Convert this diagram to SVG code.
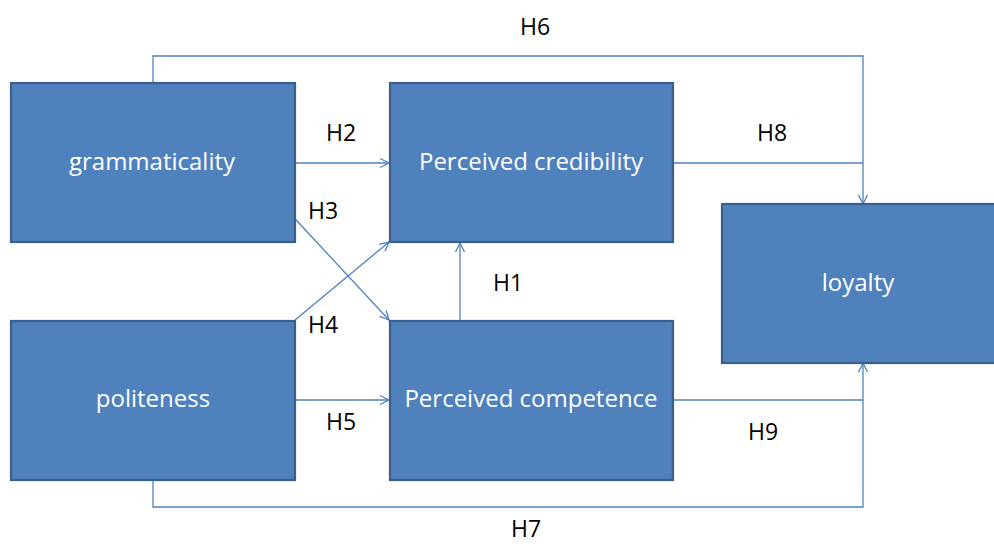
<svg xmlns="http://www.w3.org/2000/svg" width="994" height="546" viewBox="0 0 994 546">
<style>
.box{fill:#4F81BD;stroke:#3A5F8B;stroke-width:2.2}
.bt{font-family:"Open Sans","Liberation Sans",sans-serif;font-size:24px;fill:#FFFFFF;text-anchor:middle}
.lb{font-family:"Open Sans","Liberation Sans",sans-serif;font-size:23px;fill:#000000}
.c{fill:none;stroke:#4F81BD;stroke-width:1.3}
</style>
<defs>
<marker id="ah" viewBox="0 0 12 12" refX="11" refY="6" markerWidth="12" markerHeight="12" markerUnits="userSpaceOnUse" orient="auto">
<polyline points="2,1.5 11,6 2,10.5" fill="none" stroke="#4F81BD" stroke-width="1.3"/>
</marker>
</defs>
<g id="connectors">
<polyline class="c" points="153,83 153,56 863,56 863,204" marker-end="url(#ah)"/>
<polyline class="c" points="673,163 863,163"/>
<line class="c" x1="295" y1="163" x2="389" y2="163" marker-end="url(#ah)"/>
<line class="c" x1="285" y1="208" x2="389" y2="320" marker-end="url(#ah)"/>
<line class="c" x1="295" y1="320" x2="389" y2="242" marker-end="url(#ah)"/>
<line class="c" x1="460" y1="320" x2="460" y2="243" marker-end="url(#ah)"/>
<line class="c" x1="295" y1="400" x2="389" y2="400" marker-end="url(#ah)"/>
<polyline class="c" points="673,400 863,400"/>
<polyline class="c" points="153,480 153,507 863,507 863,363" marker-end="url(#ah)"/>
</g>
<g id="grammaticality">
<rect class="box" x="11" y="83" width="284" height="159"/>
<text class="bt" x="152" y="170">grammaticality</text>
</g>
<g id="credibility">
<rect class="box" x="390" y="83" width="283" height="159"/>
<text class="bt" x="531" y="170">Perceived credibility</text>
</g>
<g id="politeness">
<rect class="box" x="11" y="321" width="284" height="159"/>
<text class="bt" x="153" y="407">politeness</text>
</g>
<g id="competence">
<rect class="box" x="390" y="321" width="283" height="159"/>
<text class="bt" x="531" y="407">Perceived competence</text>
</g>
<g id="loyalty">
<rect class="box" x="722" y="204" width="280" height="159"/>
<text class="bt" x="858" y="291">loyalty</text>
</g>
<g id="labels">
<text class="lb" x="520" y="35">H6</text>
<text class="lb" x="326" y="141">H2</text>
<text class="lb" x="757" y="141">H8</text>
<text class="lb" x="308" y="219">H3</text>
<text class="lb" x="493" y="291">H1</text>
<text class="lb" x="308" y="333">H4</text>
<text class="lb" x="326" y="430">H5</text>
<text class="lb" x="748" y="440">H9</text>
<text class="lb" x="511" y="537">H7</text>
</g>
</svg>
